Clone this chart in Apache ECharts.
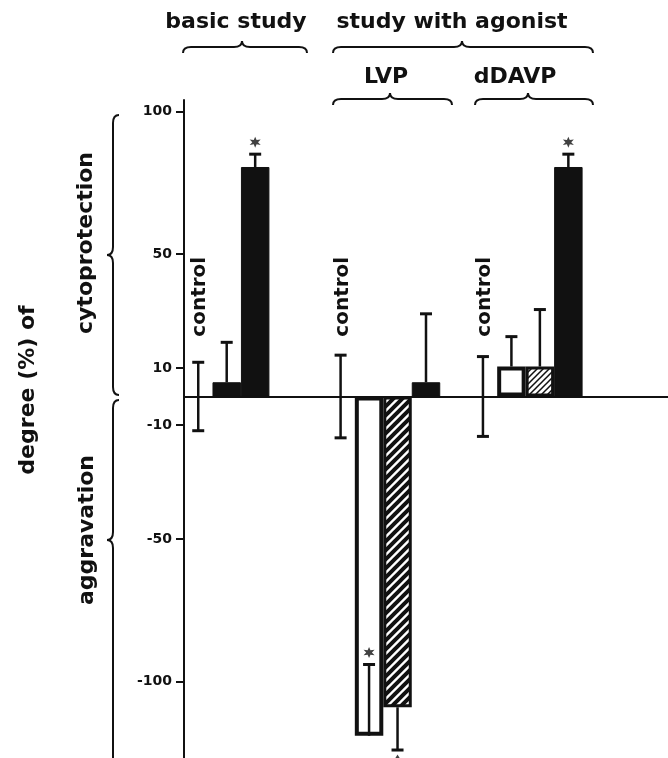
<!DOCTYPE html>
<html>
<head>
<meta charset="utf-8">
<script src="https://cdn.jsdelivr.net/npm/echarts@6/dist/echarts.min.js"></script>
<style>
  html, body { margin: 0; padding: 0; background: #fff; }
  #chart { width: 668px; height: 758px; }
</style>
</head>
<body>
<div id="chart"></div>
<script>
// slots along the x axis (gaps are empty slots)
var categories = ['basic control', 'basic low', 'basic high', 'gap 1', 'gap 2',
  'LVP control', 'LVP open', 'LVP hatched', 'LVP solid', 'gap 3',
  'dDAVP control', 'dDAVP open', 'dDAVP hatched', 'dDAVP solid', 'gap 4', 'gap 5', 'gap 6'];
var barKinds = ['', 'solid', 'solid', '', '', '', 'open', 'hatch', 'solid', '', '', 'open', 'hatchLight', 'solid', '', '', ''];
var meanValues = [0, 5, 80.5, null, null, 0, -119, -109, 5, null, 0, 10.5, 10.5, 80.5, null, null, null];
var errorHigh = [12, 19, 85, null, null, 14.5, -94, -109, 29, null, 14, 21, 30.5, 85, null, null, null];
var errorLow = [-12, 5, 80.5, null, null, -14.5, -119, -124, 5, null, -14, 10.5, 10.5, 80.5, null, null, null];
var sigMarks = ['', '', '*', '', '', '', '*', '▲', '', '', '', '', '', '*', '', '', ''];
var controlLabels = ['control', '', '', '', '', 'control', '', '', '', '', 'control', '', '', '', '', '', ''];
var yTicks = [100, 50, 10, -10, -50, -100];

var INK = '#111';
var FONT = '"DejaVu Sans", sans-serif';

function hatchCanvas(bg, lw, step) {
  var c = document.createElement('canvas');
  c.width = step; c.height = step;
  var g = c.getContext('2d');
  g.fillStyle = bg;
  g.fillRect(0, 0, step, step);
  g.strokeStyle = INK;
  g.lineWidth = lw;
  g.beginPath();
  g.moveTo(-2, step + 2); g.lineTo(step + 2, -2);
  g.moveTo(-2, 2); g.lineTo(2, -2);
  g.moveTo(step - 2, step + 2); g.lineTo(step + 2, step - 2);
  g.stroke();
  return c;
}

var styles = {
  solid: { color: INK, borderColor: INK, borderWidth: 1 },
  open: { color: '#fff', borderColor: INK, borderWidth: 4 },
  hatch: { color: { image: hatchCanvas('#fff', 4, 9), repeat: 'repeat' }, borderColor: INK, borderWidth: 3 },
  hatchLight: { color: { image: hatchCanvas('#fff', 1.5, 6), repeat: 'repeat' }, borderColor: INK, borderWidth: 3 }
};

var barData = meanValues.map(function (v, i) {
  if (!barKinds[i]) return null;
  return { value: v, itemStyle: styles[barKinds[i]] };
});

var errData = [];
meanValues.forEach(function (v, i) {
  if (errorHigh[i] != null) errData.push([i, errorLow[i], errorHigh[i], v]);
});

// six-point asterisk symbol
var star = 'path://';
for (var k = 0; k < 12; k++) {
  var r = k % 2 ? 4.5 : 10;
  var a = k * Math.PI / 6 - Math.PI / 2;
  star += (k ? 'L' : 'M') + (r * Math.cos(a)).toFixed(2) + ' ' + (r * Math.sin(a)).toFixed(2);
}
star += 'Z';

var markData = [];
sigMarks.forEach(function (m, i) {
  if (m === '*') markData.push({ value: [i, errorHigh[i]], symbol: star, symbolSize: 11, symbolOffset: [0, -12] });
  if (m === '▲') markData.push({ value: [i, errorLow[i]], symbol: 'triangle', symbolSize: [11, 9], symbolOffset: [0, 9] });
});

var controlData = [];
controlLabels.forEach(function (t, i) {
  if (t) controlData.push([i, 35]);
});

// braces drawn as small groups of lines and quadratic curves
var braceStyle = { stroke: INK, lineWidth: 2, fill: null };
function seg(a, b) {
  return { type: 'line', shape: { x1: a[0], y1: a[1], x2: b[0], y2: b[1] }, style: braceStyle };
}
function curve(a, c, b) {
  return { type: 'bezierCurve', shape: { x1: a[0], y1: a[1], cpx1: c[0], cpy1: c[1], x2: b[0], y2: b[1] }, style: braceStyle };
}
function hBrace(x1, x2, xm, y, h) {
  return { type: 'group', children: [
    curve([x1, y + h], [x1, y], [x1 + 8, y]),
    seg([x1 + 8, y], [xm - 8, y]),
    curve([xm - 8, y], [xm, y], [xm, y - h]),
    curve([xm, y - h], [xm, y], [xm + 8, y]),
    seg([xm + 8, y], [x2 - 8, y]),
    curve([x2 - 8, y], [x2, y], [x2, y + h])
  ] };
}
function vBrace(y1, y2, ym, x, w) {
  return { type: 'group', children: [
    curve([x + w, y1], [x, y1], [x, y1 + 8]),
    seg([x, y1 + 8], [x, ym - 8]),
    curve([x, ym - 8], [x, ym], [x - w, ym]),
    curve([x - w, ym], [x, ym], [x, ym + 8]),
    seg([x, ym + 8], [x, y2 - 8]),
    curve([x, y2 - 8], [x, y2], [x + w, y2])
  ] };
}
function label(text, x, y, size, rot) {
  return {
    type: 'text', x: x, y: y, rotation: rot || 0,
    style: { text: text, font: 'bold ' + size + 'px ' + FONT, fill: INK, align: 'center', verticalAlign: 'middle' }
  };
}

var chart = echarts.init(document.getElementById('chart'));
chart.setOption({
  backgroundColor: '#fff',
  animation: false,
  grid: { left: 184, right: 0, top: 100, bottom: 0 },
  xAxis: {
    type: 'category',
    data: categories,
    axisLine: { onZero: true, lineStyle: { color: INK, width: 2 } },
    axisTick: { show: false },
    axisLabel: { show: false },
    splitLine: { show: false }
  },
  yAxis: {
    type: 'value',
    min: -126.8,
    max: 104,
    axisLine: { show: true, lineStyle: { color: INK, width: 2 } },
    axisTick: { show: true, length: 8, customValues: yTicks, lineStyle: { color: INK, width: 2 } },
    axisLabel: { customValues: yTicks, margin: 12, color: INK, fontSize: 14, fontWeight: 'bold', fontFamily: FONT },
    splitLine: { show: false }
  },
  series: [
    {
      type: 'bar',
      data: barData,
      barWidth: '100%',
      barGap: '0%',
      z: 2
    },
    {
      type: 'custom',
      data: errData,
      z: 3,
      renderItem: function (params, api) {
        var x = api.coord([api.value(0), 0])[0];
        var lo = api.coord([api.value(0), api.value(1)])[1];
        var hi = api.coord([api.value(0), api.value(2)])[1];
        var mean = api.value(3);
        var st = { stroke: INK, lineWidth: 2.5 };
        var kids = [{ type: 'line', shape: { x1: x, y1: lo, x2: x, y2: hi }, style: st }];
        if (api.value(2) !== mean) kids.push({ type: 'line', shape: { x1: x - 6, y1: hi, x2: x + 6, y2: hi }, style: { stroke: INK, lineWidth: 3 } });
        if (api.value(1) !== mean) kids.push({ type: 'line', shape: { x1: x - 6, y1: lo, x2: x + 6, y2: lo }, style: { stroke: INK, lineWidth: 3 } });
        return { type: 'group', children: kids };
      }
    },
    {
      type: 'scatter',
      data: markData,
      itemStyle: { color: INK },
      z: 4
    },
    {
      type: 'custom',
      data: controlData,
      z: 4,
      renderItem: function (params, api) {
        var p = api.coord([api.value(0), api.value(1)]);
        return {
          type: 'text', x: p[0] + 2, y: p[1], rotation: Math.PI / 2,
          style: { text: 'control', font: 'bold 20px ' + FONT, fill: INK, align: 'center', verticalAlign: 'middle' }
        };
      }
    }
  ],
  graphic: [
    label('basic study', 236, 22, 22),
    label('study with agonist', 452, 22, 22),
    label('LVP', 386, 77, 22),
    label('dDAVP', 515, 77, 22),
    hBrace(183, 307, 242, 47, 6),
    hBrace(333, 593, 462, 47, 6),
    hBrace(333, 452, 390, 99, 6),
    hBrace(475, 593, 528, 99, 6),
    vBrace(115, 395, 255, 113, 6),
    vBrace(400, 800, 540, 113, 6),
    label('degree (%) of', 28, 390, 22, Math.PI / 2),
    label('cytoprotection', 86, 243, 22, Math.PI / 2),
    label('aggravation', 87, 530, 22, Math.PI / 2)
  ]
});
</script>
</body>
</html>
